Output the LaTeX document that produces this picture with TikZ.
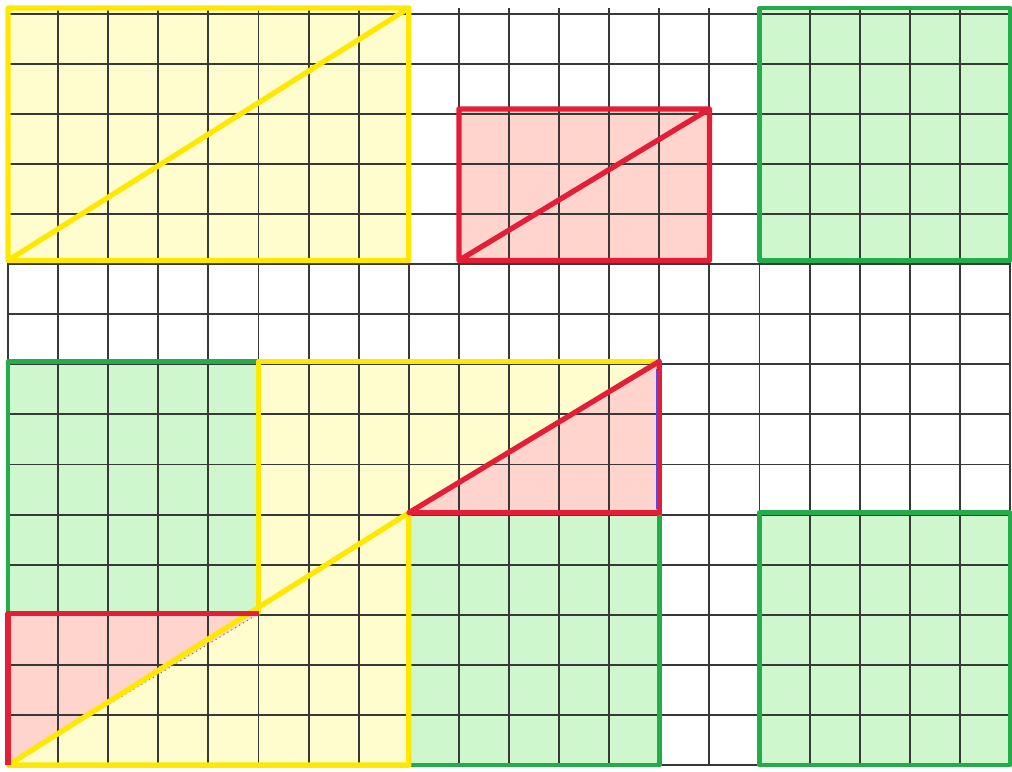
\documentclass[tikz,border=0pt]{standalone}
\usepackage{xcolor}
\usepackage{tikz}

\definecolor{lineyellow}{RGB}{255,232,0}
\definecolor{linered}{RGB}{228,30,55}
\definecolor{linegreen}{RGB}{34,172,74}
\definecolor{fillyellow}{RGB}{255,253,206}
\definecolor{fillred}{RGB}{255,212,204}
\definecolor{fillgreen}{RGB}{206,247,206}

\begin{document}
\begin{tikzpicture}[x=1cm, y=1.0074cm,
    gridline/.style={line width=1.1pt, black!78},
    yelline/.style={line width=3pt, lineyellow, line join=round},
    redline/.style={line width=3pt, linered, line join=round},
    greenline/.style={line width=2.6pt, linegreen, line join=round}]
    \useasboundingbox (-0.16,-0.12) rectangle (20.04,15.16);

    % Fills, top row
    \fill[fillyellow] (0,10) rectangle (8,15);
    \fill[fillred] (9,10) rectangle (14,13);
    \fill[fillgreen] (15,10) rectangle (20,15);

    % Fills, rearranged pieces
    \fill[fillgreen] (0,3) rectangle (5,8);
    \fill[fillgreen] (8,0) rectangle (13,5);
    \fill[fillgreen] (15,0) rectangle (20,5);
    \fill[fillyellow] (0,0) -- (8,0) -- (8,5) -- cycle;
    \fill[fillyellow] (5,3) -- (5,8) -- (13,8) -- cycle;
    \fill[fillred] (0,0) -- (0,3) -- (5,3) -- cycle;
    \fill[fillred] (8,5) -- (13,5) -- (13,8) -- cycle;

    % Grid
    \draw[gridline] (0,0) grid (20,15);

    % Outlines, top row
    \draw[yelline] (0,10) rectangle (8,15) (0,10) -- (8,15);
    \draw[redline] (9,10) rectangle (14,13) (9,10) -- (14,13);
    \draw[greenline] (15,10) rectangle (20,15);

    % Outlines, rearranged pieces
    \draw[greenline] (0,3) rectangle (5,8);
    \draw[greenline] (8,0) rectangle (13,5);
    \draw[greenline] (15,0) rectangle (20,5);
    \draw[dotted, black!55, line width=0.6pt] (0,0) -- (5,3);
    \draw[yelline] (0,0) -- (8,0) -- (8,5) -- cycle;
    \draw[yelline] (13,8) -- (5,8) -- (5,3);
    \draw[redline] (0,0) -- (0,3) -- (5,3);
    \draw[redline] (8,5) -- (13,5) -- (13,8) -- cycle;
    \draw[blue!70, line width=0.7pt] (12.95,5.08) -- (12.95,7.85);
\end{tikzpicture}
\end{document}
